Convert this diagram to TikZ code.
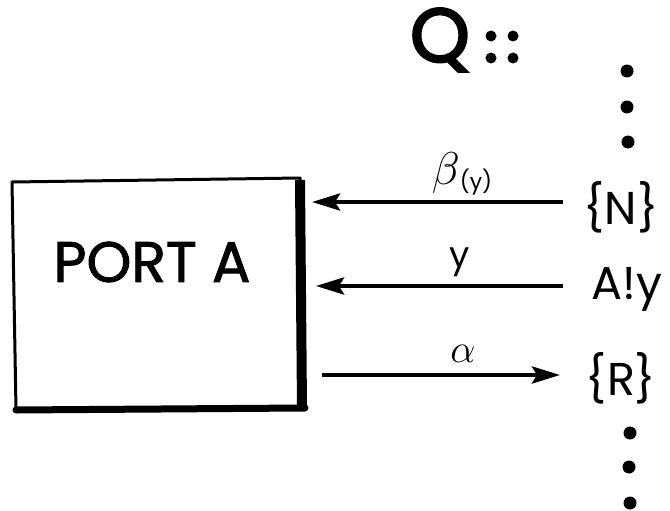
\RequirePackage{fix-cm}
\documentclass[tikz,border=0pt]{standalone}
\usepackage{fontspec}
\setmainfont{Poppins}
\newfontfamily\portfont{Poppins}[FakeBold=1.6]
\newfontfamily\qfont{Poppins}[FakeBold=3]
\usetikzlibrary{arrows.meta}
\tikzset{
  flow/.style={line width=4.2pt,-{Stealth[length=28pt,width=17pt,inset=5pt]}},
  dot/.style={circle,fill=black,inner sep=0pt,minimum size=13pt},
  endlabel/.style={font=\fontsize{46}{50}\selectfont,inner sep=0pt,anchor=center},
  arrowlabel/.style={inner sep=0pt,anchor=center}
}
\begin{document}
\begin{tikzpicture}[x=1pt,y=-1pt]
  \useasboundingbox (0,0) rectangle (670,511);
  % the port box with its heavy right and bottom edges
  \coordinate (tl) at (12,182);
  \coordinate (tr) at (300,178);
  \coordinate (br) at (302,408);
  \coordinate (bl) at (16,410);
  \draw[line width=3pt,line join=round] (tl) -- (tr) -- (br) -- (bl) -- cycle;
  \draw[line width=10pt] ([shift={(0,2)}]tr) -- (br);
  \draw[line width=7pt,line cap=round] ([shift={(3,0)}]br) -- (bl);
  \node[font=\portfont\fontsize{57}{60}\selectfont,inner sep=0pt] (port) at (152,262) {PORT A};

  % process Q and its continuation dots
  \node[font=\qfont\fontsize{76}{78}\selectfont,inner sep=0pt] (q) at (440,40) {Q};
  \node[dot,minimum size=11pt] (c1) at (491,36) {};
  \node[dot,minimum size=11pt] (c2) at (513,36) {};
  \node[dot,minimum size=11pt] (c3) at (491,58) {};
  \node[dot,minimum size=11pt] (c4) at (513,58) {};
  \node[dot] (u1) at (627,71) {};
  \node[dot] (u2) at (627,107) {};
  \node[dot] (u3) at (628,142) {};
  \node[dot] (d1) at (630,433) {};
  \node[dot] (d2) at (629,467) {};
  \node[dot] (d3) at (630,503) {};

  % actions of Q
  \node[endlabel] (n) at (621,207) {\{N\}};
  \node[endlabel] (ay) at (627,289) {A!y};
  \node[endlabel] (r) at (621,378) {\{R\}};

  % channels between the port and Q
  \coordinate (n0) at (563,202);
  \coordinate (n1) at (312,202);
  \coordinate (a0) at (563,286);
  \coordinate (a1) at (316,286);
  \coordinate (r0) at (322,375);
  \coordinate (r1) at (560,375);
  \draw[flow] (n0) -- (n1);
  \draw[flow] (a0) -- (a1);
  \draw[flow] (r0) -- (r1);

  \node[arrowlabel] (lb) at (462,174) {\fontsize{46}{46}\selectfont$\beta$\raisebox{-5pt}{\fontsize{22}{22}\selectfont(y)}};
  \node[arrowlabel,font=\fontsize{36}{38}\selectfont] (ly) at (460,262) {y};
  \node[arrowlabel,font=\fontsize{40}{40}\selectfont] (la) at (463,354) {$\alpha$};
\end{tikzpicture}
\end{document}
